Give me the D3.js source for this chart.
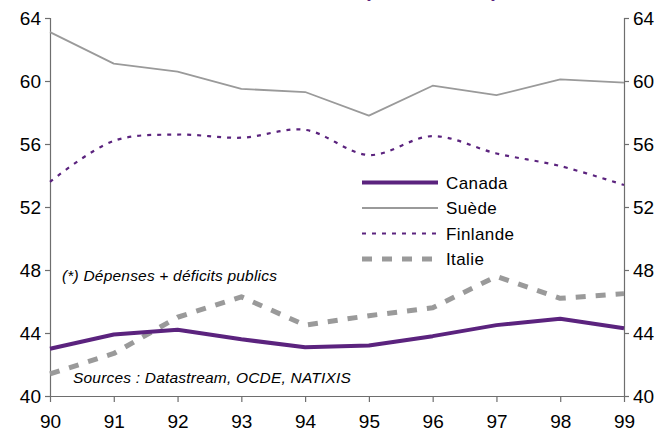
<!DOCTYPE html>
<html>
<head>
<meta charset="utf-8">
<script src="https://cdn.jsdelivr.net/npm/d3@7/dist/d3.min.js"></script>
<style>
  html, body { margin: 0; padding: 0; background: #fff; }
  svg { display: block; font-family: "Liberation Sans", Arial, sans-serif; }
</style>
</head>
<body>
<svg id="chart" width="665" height="436"></svg>
<script>
// Years (x categories)
const years = ["90", "91", "92", "93", "94", "95", "96", "97", "98", "99"];

// Series values, % of GDP
const canada   = [43.0, 43.9, 44.2, 43.6, 43.1, 43.2, 43.8, 44.5, 44.9, 44.3];
const suede    = [63.1, 61.1, 60.6, 59.5, 59.3, 57.8, 59.7, 59.1, 60.1, 59.9];
const finlande = [53.6, 56.2, 56.6, 56.4, 56.9, 55.3, 56.5, 55.4, 54.6, 53.4];
const italie   = [41.4, 42.7, 45.0, 46.3, 44.5, 45.1, 45.6, 47.6, 46.2, 46.5];

const yTicks = [40, 44, 48, 52, 56, 60, 64];
const seriesNames = ["Canada", "Suède", "Finlande", "Italie"];

const purple = "#5b237e";
const grey = "#9a9a9a";
const axisColor = "#6e6e6e";

const svg = d3.select("#chart");
const plotLeft = 50, plotRight = 624, plotTop = 18, plotBottom = 396;

const x = d3.scalePoint().domain(years).range([plotLeft, plotRight]);
const y = d3.scaleLinear().domain([40, 64]).range([plotBottom, plotTop]);

// Title, running off the top edge
svg.append("text")
  .attr("x", 364).attr("y", -3)
  .attr("font-size", 20).attr("font-weight", "bold")
  .attr("fill", purple)
  .attr("textLength", 134)
  .text("(en % du PIB)");

// Axes
function styleAxis(g) {
  g.selectAll("path, line").attr("stroke", axisColor).attr("stroke-width", 1.2);
  g.selectAll("text").attr("fill", "#000").attr("font-size", 19)
    .attr("font-family", "'Liberation Sans', Arial, sans-serif");
}

svg.append("g")
  .attr("transform", `translate(${plotLeft},0)`)
  .call(d3.axisLeft(y).tickValues(yTicks).tickSize(5).tickSizeOuter(5).tickPadding(4))
  .call(styleAxis);

svg.append("g")
  .attr("transform", `translate(${plotRight},0)`)
  .call(d3.axisRight(y).tickValues(yTicks).tickSize(5).tickSizeOuter(5).tickPadding(4))
  .call(styleAxis);

const xAxis = svg.append("g")
  .attr("transform", `translate(0,${plotBottom})`)
  .call(d3.axisBottom(x).tickSize(6).tickSizeOuter(0).tickPadding(9))
  .call(styleAxis);
xAxis.selectAll("text").attr("dy", "0.9em");

// Series lines (Finlande is smoothed, the others are straight segments)
const series = [
  { name: "Canada",   values: canada,   color: purple, width: 4,   dash: null,    smooth: false },
  { name: "Suède",    values: suede,    color: grey,   width: 1.8, dash: null,    smooth: false },
  { name: "Finlande", values: finlande, color: purple, width: 2.2, dash: "4,6",   smooth: true },
  { name: "Italie",   values: italie,   color: grey,   width: 5,   dash: "10,10", smooth: false }
];

const lineFor = s => d3.line()
  .x((d, i) => x(years[i]))
  .y(d => y(d))
  .curve(s.smooth ? d3.curveCatmullRom.alpha(0.5) : d3.curveLinear);

const drawOrder = ["Suède", "Finlande", "Italie", "Canada"];
drawOrder.forEach(n => {
  const s = series.find(d => d.name === n);
  svg.append("path")
    .datum(s.values)
    .attr("d", lineFor(s))
    .attr("fill", "none")
    .attr("stroke", s.color)
    .attr("stroke-width", s.width)
    .attr("stroke-dasharray", s.dash)
    .attr("stroke-linejoin", "round");
});

// Legend
const legend = svg.append("g").attr("transform", "translate(362,182.5)");
seriesNames.forEach((n, i) => {
  const s = series.find(d => d.name === n);
  const row = legend.append("g").attr("transform", `translate(0,${i * 25.5})`);
  row.append("line")
    .attr("x1", 0).attr("x2", 76).attr("y1", 0).attr("y2", 0)
    .attr("stroke", s.color)
    .attr("stroke-width", s.width)
    .attr("stroke-dasharray", s.dash);
  row.append("text")
    .attr("x", 84).attr("y", 6)
    .attr("font-size", 17).attr("letter-spacing", 0.4).attr("fill", "#000")
    .text(n);
});

// Notes
svg.append("text")
  .attr("x", 62).attr("y", 281)
  .attr("font-size", 15.5).attr("letter-spacing", 0.2)
  .attr("font-style", "italic").attr("fill", "#000")
  .text("(*) Dépenses + déficits publics");

svg.append("text")
  .attr("x", 73).attr("y", 383)
  .attr("font-size", 15.5).attr("letter-spacing", 0.2)
  .attr("font-style", "italic").attr("fill", "#000")
  .text("Sources : Datastream, OCDE, NATIXIS");
</script>
</body>
</html>
